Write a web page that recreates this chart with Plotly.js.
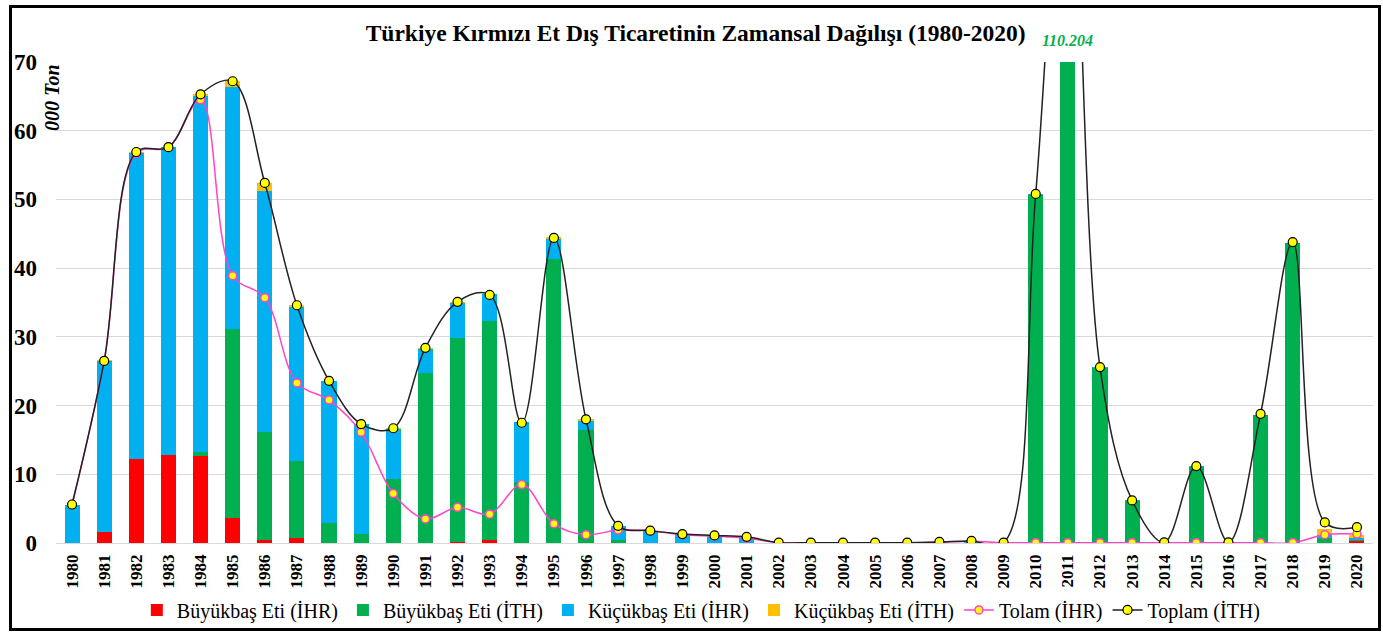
<!DOCTYPE html>
<html>
<head>
<meta charset="utf-8">
<script src="https://cdn.plot.ly/plotly-3.0.1.min.js"></script>
<style>
html,body{margin:0;padding:0;background:#fff;}
#wrap{position:relative;width:1383px;height:632px;}
#chart{width:1383px;height:632px;}
#frame{position:absolute;left:9px;top:5px;width:1366px;height:620px;border:3px solid #000;pointer-events:none;}
</style>
</head>
<body>
<div id="wrap"><div id="chart"></div><div id="frame"></div></div>
<script>
const years = ['1980','1981','1982','1983','1984','1985','1986','1987','1988','1989','1990',
  '1991','1992','1993','1994','1995','1996','1997','1998','1999','2000',
  '2001','2002','2003','2004','2005','2006','2007','2008','2009','2010',
  '2011','2012','2013','2014','2015','2016','2017','2018','2019','2020'];

// Büyükbaş Eti (İHR)
const buyukIhr = [0,1.6,12.2,12.8,12.6,3.7,0.4,0.7,0,0,0,
  0,0.2,0.5,0,0,0,0,0,0,0,
  0,0,0,0,0,0,0,0,0,0,
  0,0,0,0,0,0,0,0,0,0.35];
// Büyükbaş Eti (İTH)
const buyukIth = [0,0,0,0,0.6,27.4,15.7,11.2,2.9,1.3,9.3,
  24.8,29.6,31.8,8.9,41.4,16.5,0.4,0,0,0,
  0,0,0,0,0,0,0,0,0,50.6,
  110.2,25.4,6.1,0,11.0,0,18.6,43.6,0.7,0.1];
// Küçükbaş Eti (İHR)
const kucukIhr = [5.6,24.9,44.5,44.8,51.8,35.2,35.1,22.5,20.7,16.0,7.3,
  3.4,5.1,3.9,8.7,2.8,1.3,2.1,1.8,1.3,1.0,
  0.8,0.05,0.05,0.05,0.05,0.05,0.1,0.25,0.05,0.2,
  0,0.2,0.1,0.05,0.2,0.05,0.1,0.1,0.4,0.3];
// Küçükbaş Eti (İTH)
const kucukIth = [0,0.1,0.2,0,0.3,0.9,1.2,0.2,0,0,0.2,
  0.2,0.2,0,0,0.3,0.2,0,0,0,0,
  0,0,0,0,0,0,0,0,0,0,
  0,0,0,0,0,0,0,0,0.9,0.45];
// Tolam (İHR)
const tolamIhr = [5.6,26.5,56.7,57.6,64.5,38.9,35.7,23.3,20.8,16.1,7.2,
  3.5,5.2,4.2,8.5,2.8,1.2,1.9,1.8,1.2,1.0,
  0.7,0.05,0.05,0.05,0.05,0.05,0.1,0.25,0.05,0.05,
  0.05,0.05,0.05,0.05,0.05,0.05,0.05,0.05,1.2,1.3];
// Toplam (İTH)
const toplamIth = [5.6,26.5,56.9,57.6,65.3,67.2,52.4,34.6,23.6,17.3,16.7,
  28.4,35.1,36.1,17.5,44.4,18.0,2.5,1.8,1.3,1.1,
  0.9,0.05,0.05,0.05,0.05,0.05,0.15,0.3,0.05,50.8,
  110.204,25.6,6.2,0.1,11.2,0.1,18.8,43.8,3.0,2.3];

const peakLabel = '110.204';
const peakYear = '2011';

const serif = 'Liberation Serif, Times New Roman, serif';

const traces = [
  {type:'bar', name:'Büyükbaş Eti (İHR)', x:years, y:buyukIhr, marker:{color:'#ff0000'}},
  {type:'bar', name:'Büyükbaş Eti (İTH)', x:years, y:buyukIth, marker:{color:'#00b050'}},
  {type:'bar', name:'Küçükbaş Eti (İHR)', x:years, y:kucukIhr, marker:{color:'#00b0f0'}},
  {type:'bar', name:'Küçükbaş Eti (İTH)', x:years, y:kucukIth, marker:{color:'#ffc000'}},
  {type:'scatter', mode:'lines+markers', name:'Tolam (İHR)', x:years, y:tolamIhr,
    line:{color:'#ff44cc', width:1.5, shape:'spline', smoothing:1},
    marker:{color:'#ffff00', size:8, line:{color:'#ff44cc', width:1.5}}},
  {type:'scatter', mode:'lines+markers', name:'Toplam (İTH)', x:years, y:toplamIth,
    line:{color:'#222222', width:1.5, shape:'spline', smoothing:1},
    marker:{color:'#ffff00', size:9, line:{color:'#000000', width:1.2}}}
];

const layout = {
  width:1383, height:632,
  margin:{l:56, r:10, t:62, b:89, autoexpand:false},
  paper_bgcolor:'#ffffff', plot_bgcolor:'#ffffff',
  barmode:'stack', bargap:0.53,
  showlegend:true,
  title:{text:'<b>Türkiye Kırmızı Et Dış Ticaretinin Zamansal Dağılışı (1980-2020)</b>',
    font:{family:serif, size:23.5, color:'#000'}, x:0.503, xanchor:'center',
    yref:'container', y:0.948, yanchor:'middle'},
  font:{family:serif, color:'#000'},
  xaxis:{type:'category', categoryorder:'array', categoryarray:years,
    range:[-0.5, years.length - 0.5], autorange:false, automargin:false,
    tickangle:-90, tickfont:{family:serif, size:17, color:'#000', weight:'bold'},
    showgrid:false, showline:false, zeroline:false, ticks:'', ticklabelstandoff:7, fixedrange:true},
  yaxis:{range:[0,70], autorange:false, automargin:false, dtick:10,
    tickfont:{family:serif, size:23, color:'#000', weight:'bold'},
    showgrid:true, gridcolor:'#d9d9d9', gridwidth:1, zeroline:true, zerolinecolor:'#d9d9d9',
    showline:false, ticks:'', ticklabelstandoff:18, fixedrange:true},
  legend:{orientation:'h', x:0.49, xanchor:'center', yref:'container', y:0.035, yanchor:'middle',
    font:{family:serif, size:20, color:'#000'}, traceorder:'normal', itemwidth:30},
  annotations:[
    {xref:'paper', yref:'paper', x:-0.0035, y:1.0, xanchor:'center', yanchor:'top',
     text:'<b><i>000 Ton</i></b>', textangle:-90, showarrow:false,
     font:{family:serif, size:20, color:'#000'}},
    {xref:'x', yref:'paper', x:years.indexOf(peakYear), y:1.045, xanchor:'center', yanchor:'middle',
     text:'<b><i>'+peakLabel+'</i></b>', showarrow:false,
     font:{family:serif, size:16, color:'#00b050'}}
  ]
};

Plotly.newPlot('chart', traces, layout, {displayModeBar:false, staticPlot:true});
</script>
</body>
</html>
